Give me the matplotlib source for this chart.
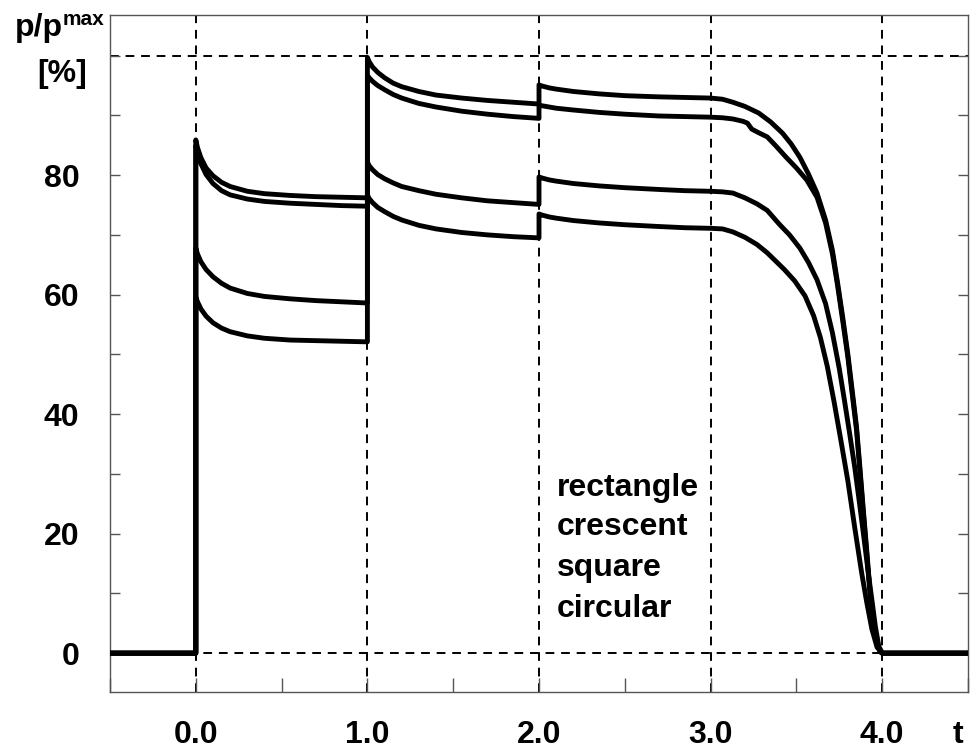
import matplotlib
matplotlib.use("Agg")
import matplotlib.pyplot as plt

# ---- data ----
# time points of the load history (common to all four curves for the first three stages)
t_stage0 = [0.0, 0.01, 0.03, 0.06, 0.1, 0.15, 0.2, 0.3, 0.4, 0.55, 0.7, 0.85, 1.0]
t_stage1 = [1.0, 1.01, 1.03, 1.06, 1.1, 1.15, 1.2, 1.3, 1.4, 1.55, 1.7, 1.85, 2.0]
t_stage2 = [2.0, 2.02, 2.06, 2.1, 2.2, 2.35, 2.5, 2.7, 2.85, 3.0]

# rectangle
p_rect_0 = [85.9, 84.6, 82.9, 81.2, 79.9, 78.8, 78.1, 77.3, 76.9, 76.6, 76.4, 76.3, 76.2]
p_rect_1 = [99.7, 99.0, 98.1, 97.2, 96.3, 95.4, 94.8, 94.0, 93.4, 92.9, 92.5, 92.2, 91.9]
p_rect_2 = [95.1, 94.9, 94.6, 94.4, 94.0, 93.6, 93.3, 93.1, 93.0, 92.9]
t_rect_3 = [3.0, 3.07, 3.13, 3.2, 3.28, 3.35, 3.42, 3.47, 3.52, 3.57, 3.62, 3.67, 3.71, 3.74, 3.77,
            3.8, 3.82, 3.85, 3.87, 3.89, 3.91, 3.93, 3.95, 3.97, 3.99, 4.0]
p_rect_3 = [92.9, 92.7, 92.2, 91.5, 90.4, 88.9, 87.0, 85.2, 83.0, 80.2, 77.0, 72.5, 67.4, 62.0, 56.2,
            50.0, 45.2, 38.0, 31.1, 24.0, 17.2, 10.0, 4.5, 1.5, 0.2, 0.0]

# crescent
p_cres_0 = [85.0, 83.8, 81.9, 80.1, 78.6, 77.4, 76.7, 76.0, 75.6, 75.3, 75.1, 74.9, 74.8]
p_cres_1 = [96.7, 96.3, 95.7, 95.0, 94.3, 93.5, 92.9, 92.0, 91.4, 90.7, 90.2, 89.8, 89.5]
p_cres_2 = [91.7, 91.6, 91.4, 91.2, 90.9, 90.5, 90.2, 89.9, 89.8, 89.7]
t_cres_3 = [3.0, 3.07, 3.13, 3.19, 3.215, 3.24, 3.28, 3.33, 3.38, 3.44, 3.5, 3.56, 3.62, 3.67, 3.71,
            3.74, 3.77, 3.8, 3.82, 3.85, 3.87, 3.89, 3.91, 3.93, 3.95, 3.97, 3.99, 4.0]
p_cres_3 = [89.7, 89.6, 89.4, 89.0, 88.7, 87.7, 87.1, 86.4, 84.9, 83.0, 81.2, 79.2, 76.3, 72.0, 66.8,
            61.5, 55.6, 49.5, 44.6, 37.4, 30.5, 23.4, 16.6, 9.5, 4.2, 1.3, 0.2, 0.0]

# square
p_squa_0 = [67.8, 66.8, 65.5, 64.2, 63.0, 61.9, 61.1, 60.2, 59.7, 59.3, 59.0, 58.8, 58.6]
p_squa_1 = [82.2, 81.6, 80.9, 80.1, 79.4, 78.7, 78.1, 77.4, 76.8, 76.2, 75.7, 75.4, 75.1]
p_squa_2 = [79.7, 79.5, 79.2, 79.0, 78.6, 78.2, 77.9, 77.6, 77.4, 77.3]
t_squa_3 = [3.0, 3.07, 3.13, 3.2, 3.27, 3.33, 3.4, 3.46, 3.52, 3.57, 3.62, 3.67, 3.71, 3.75, 3.78,
            3.81, 3.84, 3.87, 3.89, 3.92, 3.94, 3.96, 3.98, 4.0]
p_squa_3 = [77.3, 77.2, 77.0, 76.2, 75.2, 74.1, 71.8, 70.0, 67.8, 65.4, 62.5, 58.5, 53.6, 47.6, 42.3,
            36.8, 31.1, 24.6, 20.1, 13.2, 8.9, 4.5, 1.2, 0.0]

# circular
p_circ_0 = [59.6, 58.8, 57.6, 56.4, 55.3, 54.4, 53.8, 53.1, 52.7, 52.4, 52.3, 52.2, 52.1]
p_circ_1 = [76.7, 76.1, 75.4, 74.6, 73.9, 73.1, 72.5, 71.6, 71.0, 70.4, 70.0, 69.7, 69.5]
p_circ_2 = [73.5, 73.3, 73.0, 72.8, 72.4, 72.0, 71.7, 71.4, 71.2, 71.1]
t_circ_3 = [3.0, 3.07, 3.13, 3.2, 3.27, 3.33, 3.38, 3.43, 3.49, 3.55, 3.6, 3.64, 3.68, 3.72, 3.76,
            3.8, 3.84, 3.88, 3.91, 3.94, 3.97, 4.0]
p_circ_3 = [71.1, 71.0, 70.5, 69.6, 68.4, 67.0, 65.6, 64.2, 62.3, 59.8, 56.5, 52.8, 48.0, 42.0, 35.5,
            28.8, 21.0, 13.5, 8.5, 4.0, 1.0, 0.0]

t_before = [-0.5, 0.0]
p_before = [0.0, 0.0]
t_after = [4.0, 4.5]
p_after = [0.0, 0.0]

series_names = ["rectangle", "crescent", "square", "circular"]
x_major = [0.0, 1.0, 2.0, 3.0, 4.0]
x_minor = [-0.5, 0.5, 1.5, 2.5, 3.5, 4.5]
x_labels = ["0.0", "1.0", "2.0", "3.0", "4.0"]
y_ticks = [0, 10, 20, 30, 40, 50, 60, 70, 80, 90, 100]
y_labels = ["0", "", "20", "", "40", "", "60", "", "80", "", ""]
ref_x = [0.0, 1.0, 2.0, 3.0, 4.0]
ref_y = [0, 100]

plt.rcParams['font.family'] = ['Liberation Sans', 'DejaVu Sans']
plt.rcParams['font.weight'] = 'bold'

fig = plt.figure(figsize=(9.71, 7.53), dpi=100)
ax = fig.add_axes([110/971, 1 - 692/753, 858/971, 677/753])

for xv in ref_x:
    ax.axvline(xv, color='black', lw=1.4, ls=(0, (4.5, 3.5)), zorder=1)
for yv in ref_y:
    ax.axhline(yv, color='black', lw=1.4, ls=(0, (4.5, 3.5)), zorder=1)

curves = [
    (p_rect_0, p_rect_1, p_rect_2, t_rect_3, p_rect_3),
    (p_cres_0, p_cres_1, p_cres_2, t_cres_3, p_cres_3),
    (p_squa_0, p_squa_1, p_squa_2, t_squa_3, p_squa_3),
    (p_circ_0, p_circ_1, p_circ_2, t_circ_3, p_circ_3),
]
for p0, p1, p2, t3, p3 in curves:
    tt = t_before + t_stage0 + t_stage1 + t_stage2 + t3 + t_after
    pp = p_before + p0 + p1 + p2 + p3 + p_after
    ax.plot(tt, pp, color='black', lw=3.5, solid_joinstyle='round', zorder=3)

ax.set_xlim(-0.5, 4.5)
ax.set_ylim(-6.5, 106.8)

ax.set_xticks(x_major)
ax.set_xticklabels(x_labels)
ax.set_xticks(x_minor, minor=True)
ax.set_yticks(y_ticks)
ax.set_yticklabels(y_labels)

ax.tick_params(axis='both', which='both', direction='in', color='#555555', width=1.0)
ax.tick_params(axis='x', which='both', length=10, pad=20, labelsize=23)
ax.tick_params(axis='y', which='both', length=7, pad=22, labelsize=23, right=True)
for lab in ax.get_xticklabels() + ax.get_yticklabels():
    lab.set_fontweight('bold')

for s in ax.spines.values():
    s.set_color('#555555')
    s.set_linewidth(1.0)

# axis labels
fig.text(15/971, 1 - 36/753, "p/p", fontsize=23, fontweight='bold', ha='left', va='baseline')
fig.text(63/971, 1 - 25/753, "max", fontsize=15, fontweight='bold', ha='left', va='baseline')
fig.text(37/971, 1 - 82/753, "[%]", fontsize=23, fontweight='bold', ha='left', va='baseline')
fig.text(958/971, 1 - 743/753, "t", fontsize=23, fontweight='bold', ha='center', va='baseline')

baselines = [0.2895, 0.2319, 0.1713, 0.1108]
for name, yb in zip(series_names, baselines):
    ax.text(0.521, yb, name, transform=ax.transAxes, fontsize=23, fontweight='bold',
            ha='left', va='baseline')

fig.savefig("out.png", dpi=100)
